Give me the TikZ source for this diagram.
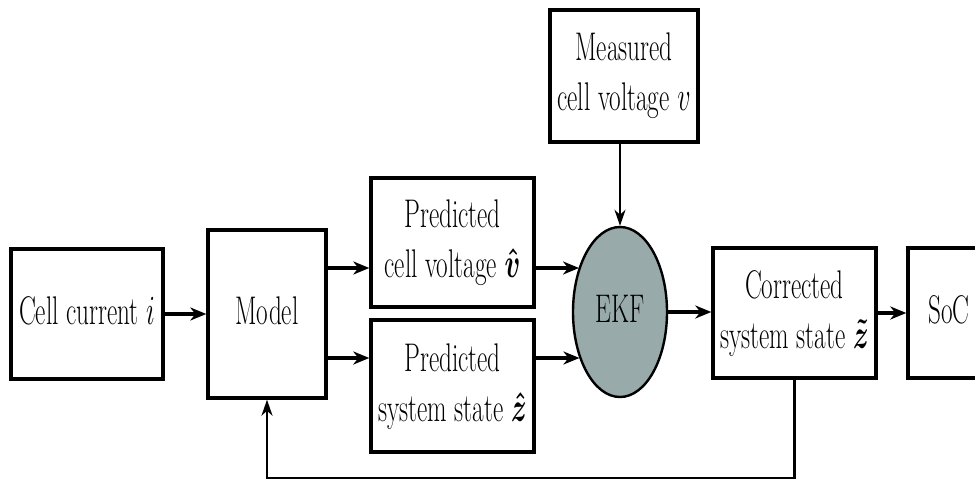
\documentclass[tikz,border=0pt]{standalone}
\usepackage{amsmath}
\usepackage{bm}
\usepackage{graphicx}
\usetikzlibrary{arrows.meta,shapes.geometric}
\definecolor{ekfgray}{RGB}{152,170,170}
\newcommand{\sqtext}[1]{\scalebox{0.63}[1]{\fontsize{20}{25}\selectfont\begin{tabular}{@{}c@{}}#1\end{tabular}}}
\tikzset{
  blk/.style={draw, line width=1.7pt, fill=white, inner sep=0pt, align=center},
  arr/.style={line width=1.7pt, -{Stealth[length=8pt,width=6.5pt,inset=2.5pt]}},
  thinarr/.style={line width=1.1pt, -{Stealth[length=8pt,width=5.5pt,inset=2.5pt]}},
}
\begin{document}
\begin{tikzpicture}[x=0.5pt,y=-0.5pt]
\useasboundingbox (0,0) rectangle (975,481);
\clip (0,0) rectangle (975,481);
\coordinate (a1) at (0,268);
\coordinate (a2) at (0,358);
\coordinate (fb) at (0,478);
\node[blk, minimum width=76pt, minimum height=65pt] (cur) at (87,314) {\sqtext{Cell current $i$}};
\node[blk, minimum width=59pt, minimum height=84pt] (model) at (267,314) {\sqtext{Model}};
\node[blk, minimum width=81.5pt, minimum height=64.5pt] (pv) at (452.5,242.5) {\sqtext{Predicted\\cell voltage $\bm{\hat{v}}$}};
\node[blk, minimum width=81.5pt, minimum height=66pt] (ps) at (452.5,386) {\sqtext{Predicted\\system state $\bm{\hat{z}}$}};
\node[draw, ellipse, line width=1.2pt, fill=ekfgray, minimum width=47pt, minimum height=85pt, inner sep=0pt] (ekf) at (620,312) {\sqtext{EKF}};
\node[blk, minimum width=74pt, minimum height=66pt] (meas) at (624,76) {\sqtext{Measured\\cell voltage $v$}};
\node[blk, minimum width=81.5pt, minimum height=65pt] (cor) at (794.5,313) {\sqtext{Corrected\\system state $\bm{\tilde{z}}$}};
\node[blk, minimum width=41pt, minimum height=65pt] (soc) at (949,313) {\sqtext{SoC}};
\draw[arr] (cur.east |- model.west) -- (model.west);
\draw[arr] (model.east |- a1) -- (pv.west |- a1);
\draw[arr] (model.east |- a2) -- (ps.west |- a2);
\draw[arr] (pv.east |- a1) -- (ekf.132 |- a1);
\draw[arr] (ps.east |- a2) -- (ekf.229 |- a2);
\draw[arr] (ekf.east) -- (cor.west |- ekf.east);
\draw[arr] (cor.east) -- (soc.west);
\draw[thinarr] (meas.south -| ekf.north) -- (ekf.north);
\draw[thinarr] (cor.south) -- (cor.south |- fb) -- (model.south |- fb) -- (model.south);
\end{tikzpicture}
\end{document}
